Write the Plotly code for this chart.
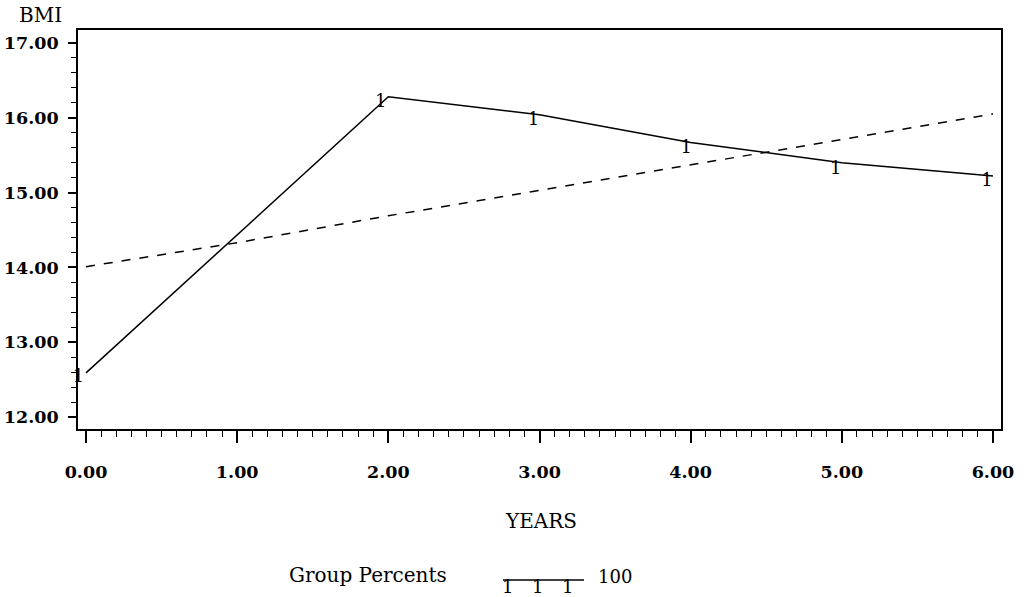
import plotly.graph_objects as go

# ---- data ----
years_fit = [0, 2, 3, 4, 5, 6]
bmi_fit = [12.59, 16.28, 16.04, 15.67, 15.40, 15.22]

years_ref = [0, 1, 2, 3, 4, 5, 6]
bmi_ref = [14.01, 14.33, 14.69, 15.03, 15.37, 15.71, 16.05]

years_obs = [-0.05, 1.95, 2.96, 3.97, 4.96, 5.96]
bmi_obs = [12.53, 16.21, 15.96, 15.59, 15.31, 15.15]
obs_symbol = "1"

x_label = "YEARS"
y_label = "BMI"
legend_title = "Group Percents"
legend_value = "100"

FONT = "DejaVu Serif"

W, H = 1028, 597
# plot-area pixel geometry in page coordinates
L, R, T, B = 78, 1001, 30, 429

def px_x(p):
    return (p - L) / (R - L)

def px_y(p):
    return (B - p) / (B - T)

fig = go.Figure()

fig.add_trace(go.Scatter(
    x=years_fit, y=bmi_fit, mode="lines",
    line=dict(color="black", width=1.5),
    showlegend=False, hoverinfo="skip"))

fig.add_trace(go.Scatter(
    x=years_ref, y=bmi_ref, mode="lines",
    line=dict(color="black", width=1.5, dash="9px,9px"),
    showlegend=False, hoverinfo="skip"))

fig.add_trace(go.Scatter(
    x=years_obs, y=bmi_obs, mode="text",
    text=[obs_symbol] * len(years_obs),
    textposition="middle center",
    textfont=dict(family=FONT, size=18, color="black"),
    cliponaxis=False,
    showlegend=False, hoverinfo="skip"))

axis_common = dict(
    showline=True, linecolor="black", linewidth=1.8, mirror=True,
    showgrid=False, zeroline=False, ticks="outside", tickcolor="black",
    tickwidth=1.5, tickformat=".2f", automargin=False,
    tickfont=dict(family=FONT, size=17.5, color="black", weight="bold"),
)

fig.update_xaxes(
    range=[-0.053, 6.053], tick0=0, dtick=1, ticklen=12,
    minor=dict(tick0=0, dtick=0.1, ticklen=6, ticks="outside",
               tickcolor="black", tickwidth=1.2),
    ticklabelstandoff=14,
    **axis_common)

fig.update_yaxes(
    range=[11.84, 17.173], tick0=12, dtick=1, ticklen=8,
    minor=dict(tick0=12, dtick=0.2, ticklen=5, ticks="outside",
               tickcolor="black", tickwidth=1.2),
    ticklabelstandoff=6,
    **axis_common)

annotations = [
    dict(text=y_label, x=px_x(40), y=px_y(15), xref="paper", yref="paper",
         xanchor="center", yanchor="middle", showarrow=False,
         font=dict(family=FONT, size=20, color="black")),
    dict(text=x_label, x=px_x(541), y=px_y(521), xref="paper", yref="paper",
         xanchor="center", yanchor="middle", showarrow=False,
         font=dict(family=FONT, size=20, color="black")),
    dict(text=legend_title, x=px_x(287), y=px_y(575), xref="paper", yref="paper",
         xanchor="left", yanchor="middle", showarrow=False,
         font=dict(family=FONT, size=20, color="black")),
    dict(text=legend_value, x=px_x(596), y=px_y(576), xref="paper", yref="paper",
         xanchor="left", yanchor="middle", showarrow=False,
         font=dict(family=FONT, size=18, color="black")),
]
for gx in [507, 537, 567]:
    annotations.append(dict(
        text=obs_symbol, x=px_x(gx), y=px_y(586), xref="paper", yref="paper",
        xanchor="center", yanchor="middle", showarrow=False,
        font=dict(family=FONT, size=18, color="black")))

shapes = [dict(type="line", xref="paper", yref="paper",
               x0=px_x(503), x1=px_x(584), y0=px_y(580), y1=px_y(580),
               line=dict(color="black", width=1.5))]

fig.update_layout(
    width=W, height=H,
    margin=dict(l=L, r=W - R, t=T, b=H - B, pad=0, autoexpand=False),
    paper_bgcolor="white", plot_bgcolor="white",
    annotations=annotations, shapes=shapes,
    showlegend=False,
)

fig.write_html(
    "out.html",
    config={"displayModeBar": False},
    post_script="document.body.style.margin='0';document.body.style.overflow='hidden';",
)
